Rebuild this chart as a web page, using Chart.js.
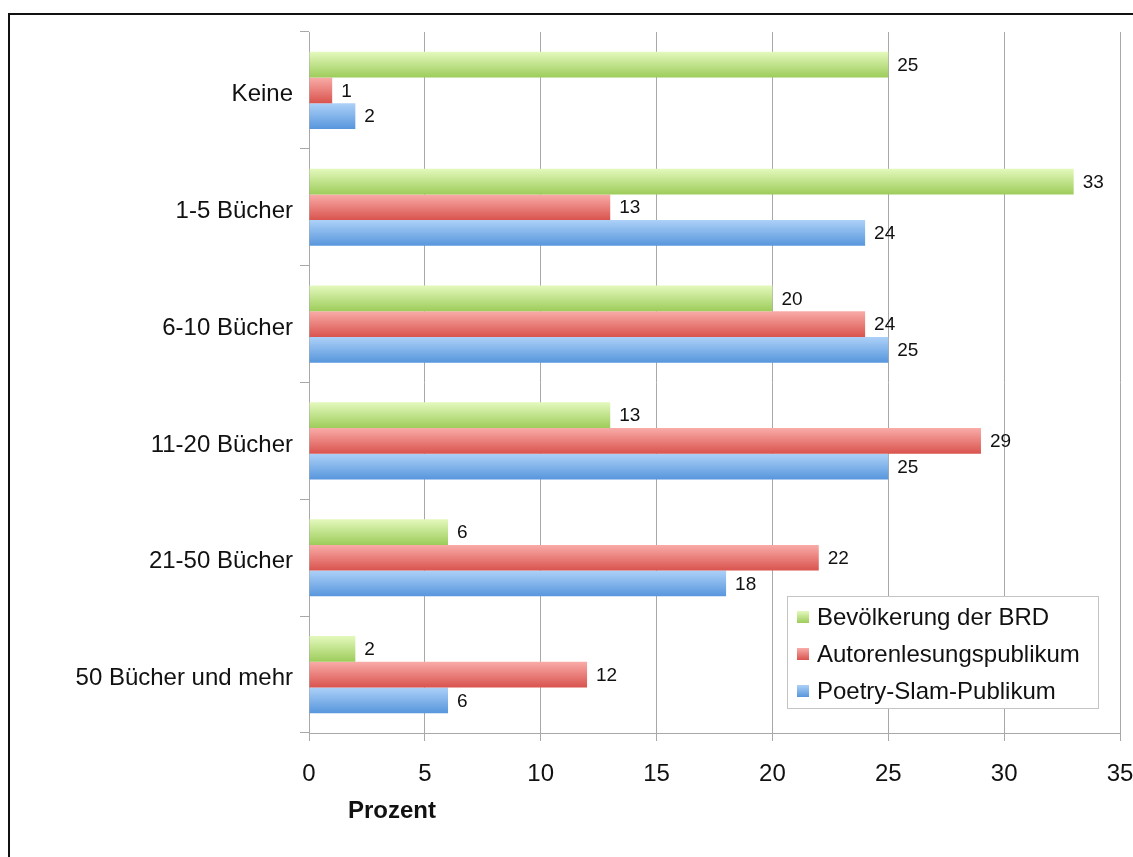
<!DOCTYPE html>
<html>
<head>
<meta charset="utf-8">
<script src="https://cdn.jsdelivr.net/npm/chart.js@4.4.0/dist/chart.umd.min.js"></script>
<style>
  html, body { margin: 0; padding: 0; background: #fff; overflow: hidden; }
  #frame { position: absolute; left: 8px; top: 13px; width: 1200px; height: 900px; border: 2px solid #111; }
  #wrap { position: absolute; left: 0; top: 0; width: 1133px; height: 857px; }
</style>
</head>
<body>
<div id="frame"></div>
<div id="wrap"><canvas id="chart" width="1133" height="857"></canvas></div>
<script>
const categories = ['Keine', '1-5 Bücher', '6-10 Bücher', '11-20 Bücher', '21-50 Bücher', '50 Bücher und mehr'];
const seriesNames = ['Bevölkerung der BRD', 'Autorenlesungspublikum', 'Poetry-Slam-Publikum'];
const bevoelkerung = [25, 33, 20, 13, 6, 2];
const autorenlesung = [1, 13, 24, 29, 22, 12];
const poetrySlam = [2, 24, 25, 25, 18, 6];
const xTicks = [0, 5, 10, 15, 20, 25, 30, 35];

const FONT = 'Helvetica, Arial, "Liberation Sans", sans-serif';

// top / bottom colours of the glossy bars
const shades = [
  ['#e4f9bd', '#9dcc5a'],
  ['#f9aca8', '#d9534e'],
  ['#add1f8', '#5796dc']
];

// paint each bar with its own vertical gradient
const glossPlugin = {
  id: 'gloss',
  beforeDatasetsDraw(chart) {
    const ctx = chart.ctx;
    chart.data.datasets.forEach((ds, i) => {
      chart.getDatasetMeta(i).data.forEach(el => {
        const top = el.y - el.height / 2;
        const g = ctx.createLinearGradient(0, top, 0, top + el.height);
        g.addColorStop(0, shades[i][0]);
        g.addColorStop(1, shades[i][1]);
        el.options = Object.assign({}, el.options, { backgroundColor: g });
      });
    });
  }
};

const valueLabels = {
  id: 'valueLabels',
  afterDatasetsDraw(chart) {
    const ctx = chart.ctx;
    ctx.save();
    ctx.font = '19px ' + FONT;
    ctx.fillStyle = '#111';
    ctx.textAlign = 'left';
    ctx.textBaseline = 'middle';
    chart.data.datasets.forEach((ds, i) => {
      chart.getDatasetMeta(i).data.forEach((el, j) => {
        ctx.fillText(ds.data[j], el.x + 9, el.y + 1);
      });
    });
    ctx.restore();
  }
};

const extras = {
  id: 'extras',
  afterDraw(chart) {
    const ctx = chart.ctx;
    const area = chart.chartArea;
    ctx.save();
    // axis title
    ctx.font = 'bold 24px ' + FONT;
    ctx.fillStyle = '#111';
    ctx.textAlign = 'center';
    ctx.textBaseline = 'middle';
    ctx.fillText('Prozent', area.left + 83, area.bottom + 78);

    // legend box inside the plot
    const lx = 787, ly = 596, lw = 311, lh = 112;
    ctx.fillStyle = '#fff';
    ctx.fillRect(lx, ly, lw, lh);
    ctx.strokeStyle = '#c4c4c4';
    ctx.lineWidth = 1;
    ctx.strokeRect(lx + 0.5, ly + 0.5, lw, lh);
    ctx.font = '24px ' + FONT;
    ctx.textAlign = 'left';
    seriesNames.forEach((name, i) => {
      const cy = ly + 21 + i * 37;
      const g = ctx.createLinearGradient(0, cy - 6, 0, cy + 6);
      g.addColorStop(0, shades[i][0]);
      g.addColorStop(1, shades[i][1]);
      ctx.fillStyle = g;
      ctx.fillRect(lx + 10, cy - 6, 12, 12);
      ctx.fillStyle = '#111';
      ctx.fillText(name, lx + 30, cy + 1);
    });
    ctx.restore();
  }
};

new Chart(document.getElementById('chart'), {
  type: 'bar',
  data: {
    labels: categories,
    datasets: [
      { label: seriesNames[0], data: bevoelkerung },
      { label: seriesNames[1], data: autorenlesung },
      { label: seriesNames[2], data: poetrySlam }
    ]
  },
  options: {
    indexAxis: 'y',
    responsive: false,
    animation: false,
    categoryPercentage: 0.66,
    barPercentage: 1,
    layout: { padding: { left: 0, top: 32, right: 13, bottom: 0 } },
    plugins: { legend: { display: false }, tooltip: { enabled: false } },
    scales: {
      x: {
        min: 0,
        max: 35,
        afterFit(scale) {
          scale.height = 124;
          scale.paddingLeft = 0;
          scale.paddingRight = 0;
        },
        afterBuildTicks(scale) { scale.ticks = xTicks.map(v => ({ value: v })); },
        grid: { color: '#a8a8a8', lineWidth: 1, tickLength: 8 },
        border: { color: '#a8a8a8' },
        ticks: { font: { family: FONT, size: 24 }, color: '#111', padding: 19 }
      },
      y: {
        afterFit(scale) {
          scale.width = 309;
          scale.paddingTop = 0;
          scale.paddingBottom = 0;
        },
        grid: { drawOnChartArea: false, color: '#a8a8a8', tickLength: 9, offset: true },
        border: { color: '#a8a8a8' },
        ticks: { font: { family: FONT, size: 24 }, color: '#111', padding: 7, labelOffset: 4 }
      }
    }
  },
  plugins: [glossPlugin, valueLabels, extras]
});
</script>
</body>
</html>
